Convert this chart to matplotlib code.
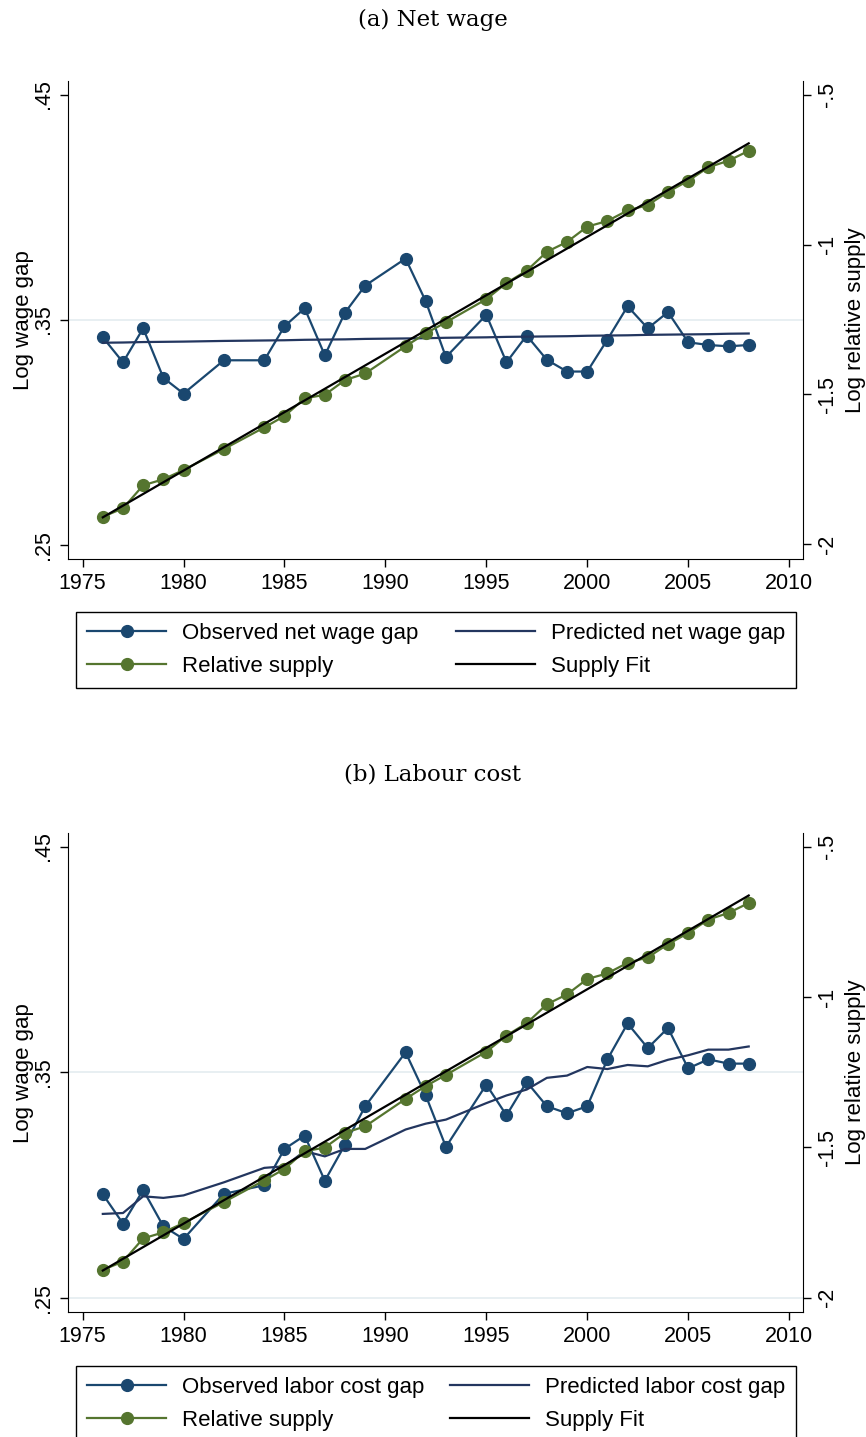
import matplotlib
matplotlib.use('Agg')
import matplotlib.pyplot as plt

plt.rcParams['font.family'] = ['Liberation Sans', 'DejaVu Sans']

years = [1976, 1977, 1978, 1979, 1980, 1982, 1984, 1985, 1986, 1987, 1988, 1989, 1991, 1992, 1993,
         1995, 1996, 1997, 1998, 1999, 2000, 2001, 2002, 2003, 2004, 2005, 2006, 2007, 2008]

# panel (a) net wage
obs_net = [.3421, .3310, .3461, .3241, .3171, .3319, .3319, .3470, .3550, .3341, .3531, .3651, .3771, .3581, .3333,
           .3521, .3310, .3429, .3321, .3269, .3269, .3411, .3559, .3461, .3533, .3399, .3387, .3381, .3387]
pred_net = [.3397, .3398, .3400, .3401, .3402, .3405, .3407, .3408, .3410, .3411, .3412, .3414, .3416, .3417, .3419,
            .3421, .3423, .3424, .3425, .3426, .3428, .3429, .3430, .3432, .3433, .3434, .3435, .3437, .3438]

# panel (b) labour cost
obs_cost = [.2959, .2829, .2978, .2817, .2761, .2961, .2999, .3160, .3219, .3019, .3179, .3349, .3588, .3397, .3169,
            .3445, .3309, .3457, .3349, .3318, .3349, .3557, .3716, .3607, .3696, .3517, .3557, .3538, .3538]
pred_cost = [.2872, .2876, .2950, .2943, .2954, .3012, .3076, .3083, .3150, .3127, .3160, .3160, .3246, .3272, .3290,
             .3363, .3397, .3423, .3475, .3485, .3523, .3514, .3532, .3526, .3555, .3575, .3600, .3600, .3614]

# relative supply (right axis), same in both panels
rel_supply = [-1.908, -1.880, -1.803, -1.783, -1.752, -1.682, -1.610, -1.572, -1.513, -1.501, -1.452, -1.430,
              -1.339, -1.296, -1.259, -1.182, -1.128, -1.087, -1.024, -0.991, -0.940, -0.921, -0.886, -0.868,
              -0.824, -0.787, -0.742, -0.720, -0.687]
fit_years = [1976, 2008]
fit_supply = [-1.910, -0.662]

navy = '#1a476f'
dknavy = '#23365f'
green = '#55752f'
gridc = '#e6eef1'

W, H = 866, 1437
fig = plt.figure(figsize=(W / 100, H / 100), dpi=100)


def panel(top_px, bot_px, title, title_y, obs, pred, obs_lab, pred_lab, leg_top, grids):
    ax = fig.add_axes([68.3 / W, 1 - bot_px / H, 734.7 / W, (bot_px - top_px) / H])
    ax2 = ax.twinx()
    for g in grids:
        ax.axhline(g, color=gridc, lw=1.3, zorder=0)
    ax.plot(years, obs, color=navy, lw=1.6, marker='o', ms=8.5, label=obs_lab)
    ax.plot(years, pred, color=dknavy, lw=1.6, label=pred_lab)
    ax2.plot(years, rel_supply, color=green, lw=1.6, marker='o', ms=8.5, label='Relative supply')
    ax2.plot(fit_years, fit_supply, color='black', lw=1.6, label='Supply Fit')

    ax.set_xlim(1974.29, 2010.69)
    ax.set_ylim(0.2436, 0.4560)
    ax2.set_ylim(-2.049, -0.454)
    ax.set_xticks(range(1975, 2011, 5))
    ax.set_yticks([.25, .35, .45], ['.25', '.35', '.45'], rotation=90, va='center')
    ax2.set_yticks([-2, -1.5, -1, -.5], ['-2', '-1.5', '-1', '-.5'], rotation=90, va='center')
    for a in (ax, ax2):
        a.tick_params(direction='out', length=6, width=1, labelsize=15.5, pad=4)
        a.spines['top'].set_visible(False)
    ax.spines['right'].set_visible(False)
    ax2.spines['left'].set_visible(False)
    ax2.spines['bottom'].set_visible(False)
    ax.set_ylabel('Log wage gap', fontsize=16)
    ax.yaxis.set_label_coords(-0.047, 0.5)
    ax2.set_ylabel('Log relative supply', fontsize=16)
    ax2.yaxis.set_label_coords(1.057, 0.5)

    fig.text(0.5, 1 - title_y / H, title, family='DejaVu Serif', fontsize=16.5, ha='center', va='center')

    h1, l1 = ax.get_legend_handles_labels()
    h2, l2 = ax2.get_legend_handles_labels()
    handles = [h1[0], h2[0], h1[1], h2[1]]
    labels = [l1[0], l2[0], l1[1], l2[1]]
    leg = ax2.legend(handles, labels, ncol=2, loc='upper left', mode='expand',
                     bbox_to_anchor=(76 / W, 1 - (leg_top + 74) / H, 720 / W, 74 / H),
                     bbox_transform=fig.transFigure, fontsize=16, frameon=True, fancybox=False,
                     edgecolor='black', framealpha=1, borderaxespad=0, borderpad=0.5,
                     handlelength=3.55, handletextpad=0.72, labelspacing=0.54, numpoints=1)
    leg.get_frame().set_linewidth(1.0)


panel(81, 559, '(a) Net wage', 20, obs_net, pred_net,
      'Observed net wage gap', 'Predicted net wage gap', 612, [.35])
panel(833, 1312.3, '(b) Labour cost', 775, obs_cost, pred_cost,
      'Observed labor cost gap', 'Predicted labor cost gap', 1366, [.25, .35])

fig.savefig('out.png', dpi=100, facecolor='white')
